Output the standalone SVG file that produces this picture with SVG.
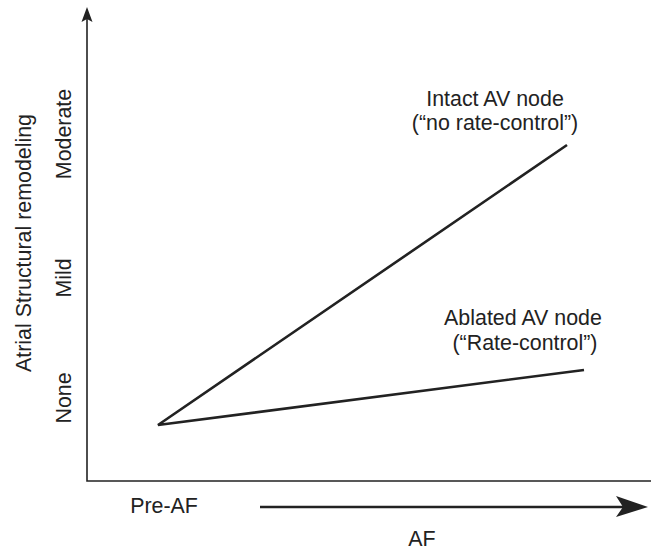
<svg xmlns="http://www.w3.org/2000/svg" width="652" height="551" viewBox="0 0 652 551">
<style>
text{font-family:"Liberation Sans",Arial,sans-serif;font-size:21.4px;fill:#222;}
.ax{stroke:#222;stroke-width:1.6;fill:none;}
.ln{stroke:#222;stroke-width:2.6;fill:none;stroke-linecap:butt;}
.mid{text-anchor:middle;}
</style>
<rect width="652" height="551" fill="#fff"/>
<g id="axes">
<path class="ax" d="M87,18 V481 H651"/>
<path d="M87,7 L92.5,22 L87,19 L81.5,22 Z" fill="#222"/>
</g>
<g id="connectors">
<path class="ln" d="M567,145 L158,425 L584,370"/>
<path class="ln" d="M260,507 H625"/>
<path d="M648,507 L616,496 L623,507 L616,517 Z" fill="#222"/>
</g>
<g id="y-labels">
<text class="mid" transform="translate(31,243) rotate(-90)">Atrial Structural remodeling</text>
<text class="mid" transform="translate(71,134) rotate(-90)">Moderate</text>
<text class="mid" transform="translate(71,278) rotate(-90)">Mild</text>
<text class="mid" transform="translate(71,398) rotate(-90)">None</text>
</g>
<g id="x-labels">
<text class="mid" x="164" y="513">Pre-AF</text>
<text class="mid" x="422" y="546">AF</text>
</g>
<g id="intact">
<text class="mid" x="495" y="106">Intact AV node</text>
<text class="mid" x="495" y="130">(“no rate-control”)</text>
</g>
<g id="ablated">
<text class="mid" x="523" y="325">Ablated AV node</text>
<text class="mid" x="525" y="350">(“Rate-control”)</text>
</g>
</svg>
